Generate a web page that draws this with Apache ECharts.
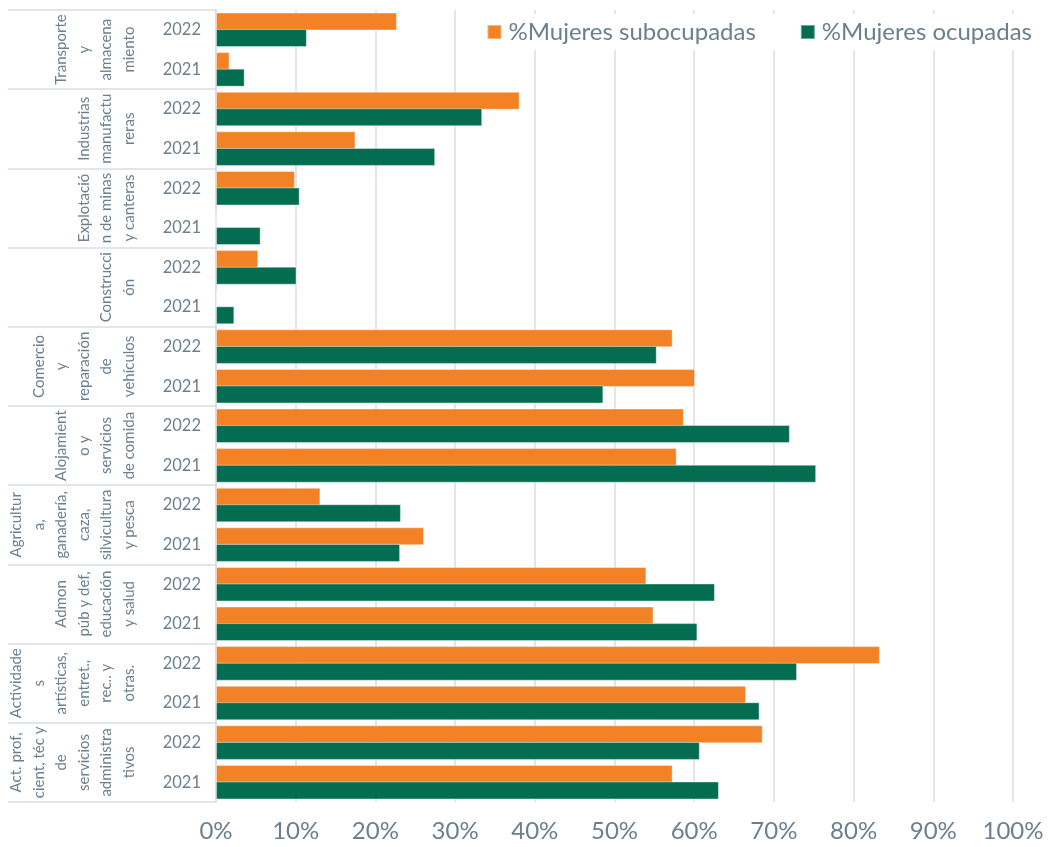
<!DOCTYPE html>
<html>
<head>
<meta charset="utf-8">
<script src="https://cdn.jsdelivr.net/npm/echarts@6/dist/echarts.min.js"></script>
<style>html,body{margin:0;padding:0;background:#fff}#c{width:1050px;height:847px}</style>
</head>
<body>
<div id="c"></div>
<script>
const sectors = [
  'Transporte\ny\nalmacena\nmiento',
  'Industrias\nmanufactu\nreras',
  'Explotació\nn de minas\ny canteras',
  'Construcci\nón',
  'Comercio\ny\nreparación\nde\nvehículos',
  'Alojamient\no y\nservicios\nde comida',
  'Agricultur\na,\nganadería,\ncaza,\nsilvicultura\ny pesca',
  'Admon\npúb y def,\neducación\ny salud',
  'Actividade\ns\nartísticas,\nentret.,\nrec.. y\notras.',
  'Act. prof,\ncient, téc y\nde\nservicios\nadministra\ntivos'
];
const yearsPerSector = ['2022', '2021'];
const seriesNames = ['%Mujeres subocupadas', '%Mujeres ocupadas'];
// top-to-bottom order: each sector 2022 then 2021
const subocupadas = [22.7, 1.7, 38.1, 17.5, 9.9, 0, 5.3, 0.1, 57.3, 60.1, 58.7, 57.8, 13.1, 26.1, 54.0, 54.9, 83.3, 66.5, 68.6, 57.3];
const ocupadas = [11.4, 3.6, 33.4, 27.5, 10.5, 5.6, 10.1, 2.3, 55.3, 48.6, 72.0, 75.3, 23.2, 23.1, 62.6, 60.4, 72.9, 68.2, 60.7, 63.1];
const xTicks = [0, 10, 20, 30, 40, 50, 60, 70, 80, 90, 100];

const years = [];
sectors.forEach(() => yearsPerSector.forEach(y => years.push(y)));

const FONT = 'Lato';
const TXT = '#6b7f8e';
const LINE = '#d9dee3';

const chart = echarts.init(document.getElementById('c'), null, {renderer: 'canvas'});
chart.setOption({
  animation: false,
  textStyle: {fontFamily: FONT},
  grid: {left: 216, right: 37, top: 10, bottom: 45, containLabel: false},
  legend: {
    data: seriesNames,
    right: 8, top: 14,
    itemWidth: 14, itemHeight: 14, itemGap: 44,
    icon: 'rect',
    backgroundColor: '#fff',
    padding: [6, 10, 6, 20],
    textStyle: {fontSize: 24, color: TXT, fontFamily: FONT, padding: [0, 0, 0, 2]}
  },
  xAxis: {
    type: 'value', min: xTicks[0], max: xTicks[xTicks.length - 1], interval: 10,
    axisLine: {show: false}, axisTick: {show: false},
    splitLine: {show: true, lineStyle: {color: LINE, width: 1.5}},
    axisLabel: {formatter: '{value}%', fontSize: 24, color: TXT, margin: 17, fontFamily: FONT}
  },
  yAxis: [
    {
      type: 'category', data: years, inverse: true,
      axisLine: {show: true, lineStyle: {color: LINE, width: 1.5}},
      axisTick: {show: false},
      axisLabel: {fontSize: 16.5, color: TXT, margin: 15, fontFamily: FONT, interval: 0}
    },
    {
      type: 'category', data: sectors, inverse: true, position: 'left', offset: 0,
      axisLine: {show: true, lineStyle: {color: LINE, width: 1.5}},
      axisTick: {show: true, length: 208, lineStyle: {color: LINE, width: 1.5}},
      axisLabel: {rotate: 90, fontSize: 15, lineHeight: 22.5, color: TXT, margin: 76, fontFamily: FONT, interval: 0, align: 'center', verticalAlign: 'bottom'}
    }
  ],
  series: [
    {
      name: seriesNames[0], type: 'bar', data: subocupadas, yAxisIndex: 0,
      barWidth: 18, barGap: '-8%',
      itemStyle: {color: '#F38226', borderColor: 'rgba(255,255,255,0.4)', borderWidth: 1}
    },
    {
      name: seriesNames[1], type: 'bar', data: ocupadas, yAxisIndex: 0,
      barWidth: 18, barGap: '-8%',
      itemStyle: {color: '#036C51', borderColor: 'rgba(255,255,255,0.4)', borderWidth: 1}
    }
  ]
});
</script>
</body>
</html>
